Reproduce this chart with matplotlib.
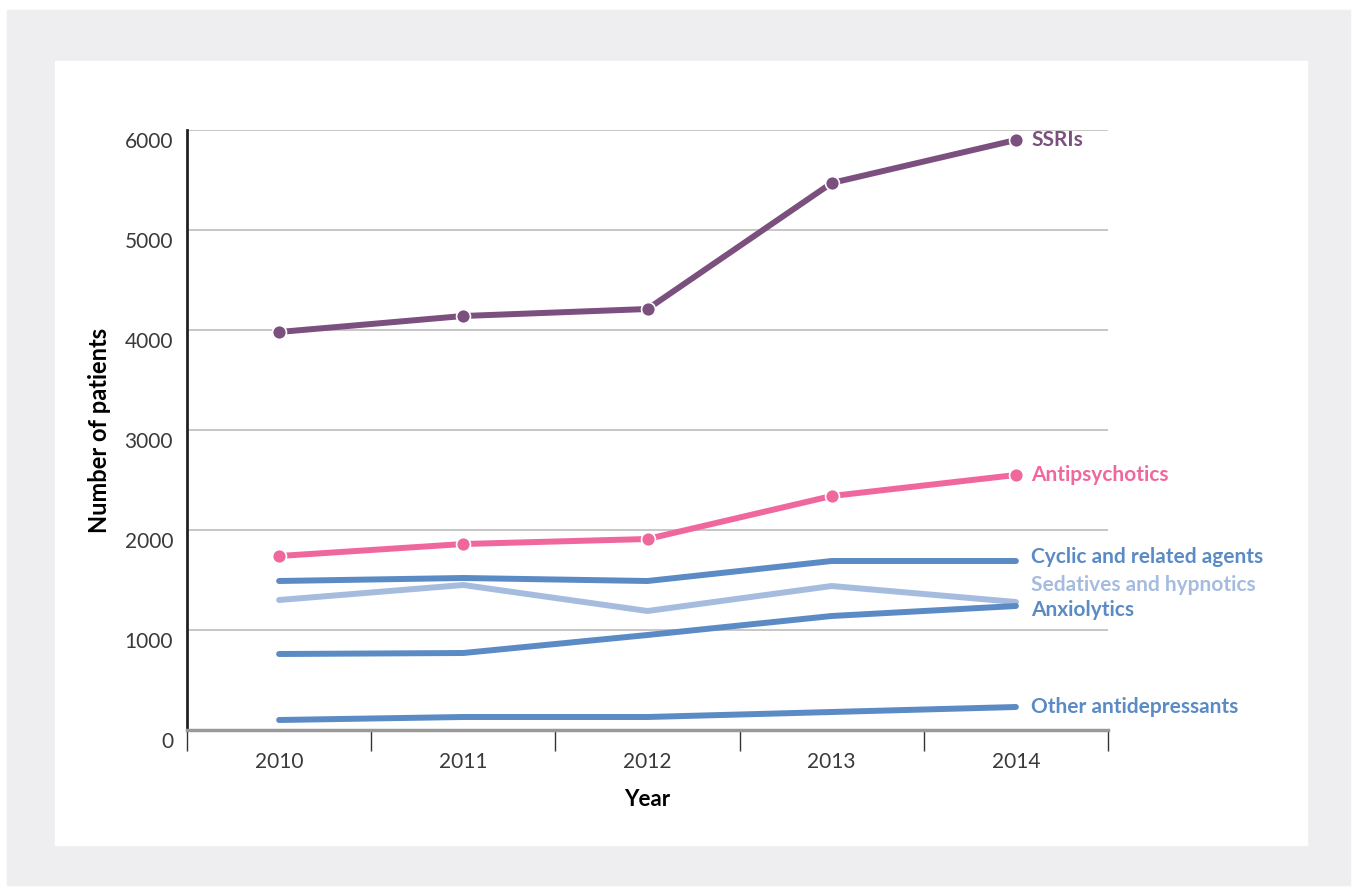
#!/usr/bin/env python3
import matplotlib as mpl
mpl.use('Agg')
import matplotlib.pyplot as plt
from matplotlib.patches import Rectangle
from matplotlib.transforms import ScaledTranslation

years = ['2010', '2011', '2012', '2013', '2014']
ssris = [3980, 4140, 4210, 5470, 5900]
antipsychotics = [1740, 1860, 1910, 2340, 2550]
cyclic = [1490, 1520, 1490, 1690, 1690]
sedatives = [1300, 1450, 1190, 1440, 1280]
anxiolytics = [760, 770, 950, 1140, 1240]
other = [100, 130, 130, 180, 230]

plt.rcParams['font.family'] = ['Lato', 'DejaVu Sans']

# name, values, colour, markers, label offset (pt)
series = [
    ('SSRIs', ssris, '#7b4f7e', True, 0),
    ('Antipsychotics', antipsychotics, '#f0679e', True, 0),
    ('Cyclic and related agents', cyclic, '#5b8bc4', False, 3),
    ('Sedatives and hypnotics', sedatives, '#a6bcdf', False, 12),
    ('Anxiolytics', anxiolytics, '#5b8bc4', False, -3),
    ('Other antidepressants', other, '#5b8bc4', False, 0),
]

fig = plt.figure(figsize=(13.57, 8.91), dpi=100)
fig.patches.append(Rectangle((7 / 1357, 1 - 885 / 891), 1343 / 1357, 875 / 891,
                             transform=fig.transFigure, color='#eeedf0', zorder=-2))
fig.patches.append(Rectangle((55 / 1357, 1 - 845 / 891), 1252 / 1357, 784 / 891,
                             transform=fig.transFigure, color='white', zorder=-1))

ax = fig.add_axes([187 / 1357, 1 - 730 / 891, 921 / 1357, 600 / 891])
ax.set_facecolor('none')
x = list(range(len(years)))

for name, vals, color, mark, off in series:
    if mark:
        ax.plot(x, vals, color=color, lw=4.3, marker='o', markersize=10,
                markeredgecolor='white', markeredgewidth=1.2, solid_capstyle='round',
                zorder=3, clip_on=False)
    else:
        ax.plot(x, vals, color=color, lw=4.3, solid_capstyle='round', zorder=3)
    ax.annotate(name, (x[-1], vals[-1]), xytext=(11, off), textcoords='offset points',
                ha='left', va='center', color=color, fontsize=15, fontweight='bold')

ax.set_xlim(-0.5, len(years) - 0.5)
ax.set_ylim(0, 6000)
ax.set_yticks(range(0, 7000, 1000))
ax.yaxis.grid(True, color='#bdbdbd', lw=1.2)
ax.set_axisbelow(True)

ax.set_xticks(x)
ax.set_xticklabels(years)
ax.set_xticks([i - 0.5 for i in range(len(years) + 1)], minor=True)
ax.tick_params(axis='x', which='major', length=0, pad=16, labelsize=15, labelcolor='#3a3a3a')
ax.tick_params(axis='x', which='minor', length=15, width=1, color='#333333', direction='out')
ax.tick_params(axis='y', length=0, pad=10, labelsize=15, labelcolor='#3a3a3a')
shift = ScaledTranslation(0, -10 / 100, fig.dpi_scale_trans)
for lab in ax.get_yticklabels():
    lab.set_transform(lab.get_transform() + shift)

for s in ['top', 'right']:
    ax.spines[s].set_visible(False)
ax.spines['left'].set_color('#222222')
ax.spines['left'].set_linewidth(2)
ax.spines['bottom'].set_color('#999999')
ax.spines['bottom'].set_linewidth(2.5)

ax.set_xlabel('Year', fontsize=16, fontweight='bold', labelpad=12)
ax.set_ylabel('Number of patients', fontsize=17, fontweight='bold', labelpad=10)

plt.savefig('out.png', dpi=100)
plt.close()
